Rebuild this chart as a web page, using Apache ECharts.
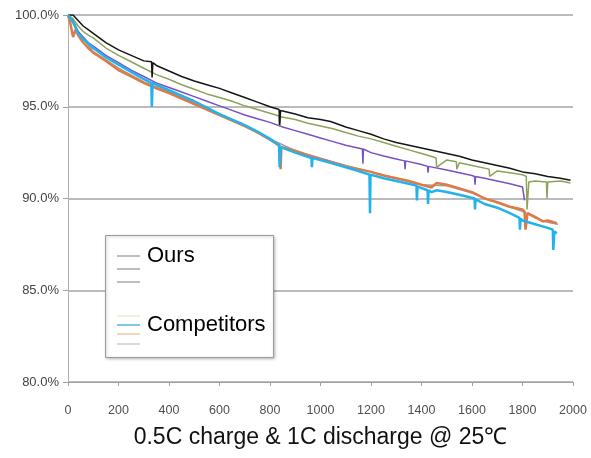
<!DOCTYPE html>
<html><head><meta charset="utf-8">
<script src="https://cdn.jsdelivr.net/npm/echarts@6/dist/echarts.min.js"></script>
<style>html,body{margin:0;padding:0;background:#fff}#c{width:591px;height:458px}</style>
</head><body><div id="c"></div>
<script>
// Cycle counts and capacity retention (%)
const xTicks = [0,200,400,600,800,1000,1200,1400,1600,1800,2000];
const yTicks = [80,85,90,95,100];
const xTitle = '0.5C charge & 1C discharge @ 25\u2103';

const blackCycles = [0,20,40,60,80,100,150,200,250,300,331,333,336,350,400,450,500,550,600,650,700,750,800,836,838,842,900,950,1000,1040,1100,1150,1200,1250,1300,1350,1400,1450,1500,1550,1600,1650,1700,1750,1800,1850,1900,1950,1990];
const blackVals   = [100,100,99.7,99.4,99.2,99.0,98.5,98.1,97.8,97.5,97.45,96.6,97.4,97.25,96.95,96.65,96.4,96.2,96.0,95.75,95.5,95.25,95.0,94.85,94.0,94.8,94.6,94.4,94.3,94.2,93.9,93.7,93.5,93.25,93.05,92.9,92.75,92.6,92.45,92.3,92.1,91.95,91.8,91.65,91.45,91.35,91.2,91.1,91.0];

const greenCycles = [0,20,40,60,80,100,150,200,250,300,350,400,450,500,550,600,650,700,750,800,836,838,842,900,950,1000,1050,1100,1150,1200,1250,1300,1350,1400,1450,1458,1460,1500,1538,1540,1550,1600,1668,1670,1700,1750,1800,1815,1818,1825,1850,1895,1897,1900,1950,1990];
const greenVals   = [100,99.8,99.4,99.1,98.9,98.75,98.2,97.8,97.45,97.1,96.75,96.5,96.2,95.95,95.7,95.5,95.3,95.05,94.85,94.65,94.5,93.9,94.45,94.3,94.1,93.95,93.8,93.6,93.4,93.25,93.05,92.85,92.65,92.45,92.25,92.2,91.7,92.1,92.0,91.6,91.95,91.8,91.6,91.2,91.5,91.4,91.3,91.2,89.4,90.9,90.95,90.9,90.0,90.9,90.95,90.85];

const purpleCycles = [0,20,40,60,80,100,150,200,250,300,350,400,450,500,550,600,650,700,750,800,850,900,950,1000,1050,1100,1166,1168,1170,1200,1250,1300,1333,1335,1337,1400,1424,1426,1428,1500,1550,1600,1610,1612,1614,1650,1700,1750,1800,1806,1808];
const purpleVals   = [100,99.7,99.1,98.8,98.5,98.3,97.8,97.4,97.0,96.65,96.3,96.05,95.8,95.55,95.3,95.05,94.8,94.55,94.35,94.15,93.9,93.7,93.5,93.3,93.1,92.9,92.7,91.9,92.7,92.5,92.32,92.15,92.05,91.6,92.05,91.85,91.75,91.4,91.75,91.55,91.4,91.25,91.2,90.75,91.2,91.1,90.95,90.8,90.63,90.6,89.9];

const orangeCycles = [0,10,20,30,40,60,80,100,150,200,250,300,350,400,450,500,550,600,650,700,750,800,840,842,845,900,950,1000,1050,1100,1150,1200,1250,1300,1350,1400,1440,1460,1500,1550,1600,1650,1700,1750,1800,1808,1812,1820,1850,1880,1900,1936];
const orangeVals   = [100,99.5,98.8,99.2,98.9,98.5,98.2,97.95,97.5,97.0,96.65,96.3,96.0,95.75,95.45,95.15,94.85,94.55,94.25,93.95,93.6,93.2,92.85,91.6,92.8,92.6,92.35,92.15,91.95,91.75,91.6,91.45,91.25,91.1,90.95,90.75,90.6,90.85,90.75,90.55,90.35,90.0,89.8,89.55,89.4,89.3,88.3,89.2,89.0,88.75,88.8,88.65];

const greyCycles = [0,50,100,200,300,400,500,600,700,800,900,1000,1100,1200,1300,1400,1500,1600,1700,1800,1850,1900,1940];
const greyVals   = [100,98.9,98.0,97.1,96.35,95.8,95.2,94.6,94.0,93.25,92.6,92.2,91.8,91.45,91.1,90.75,90.7,90.3,89.75,89.3,88.95,88.7,88.6];

const blueCycles = [0,20,40,60,80,100,150,200,250,300,330,332,335,350,400,450,500,550,600,650,700,750,800,836,838,842,900,964,966,968,1000,1050,1100,1150,1194,1196,1198,1250,1300,1350,1380,1382,1384,1424,1426,1428,1440,1460,1500,1550,1610,1612,1614,1650,1700,1750,1788,1790,1792,1800,1850,1900,1920,1922,1926,1936];
const blueVals   = [100,99.6,99.0,98.7,98.45,98.2,97.7,97.3,96.9,96.5,96.3,95.0,96.3,96.2,95.9,95.6,95.3,94.95,94.6,94.3,94.0,93.65,93.25,92.9,91.7,92.8,92.5,92.2,91.7,92.2,92.1,91.9,91.7,91.5,91.3,89.2,91.3,91.1,90.95,90.8,90.7,89.9,90.65,90.45,89.7,90.45,90.35,90.45,90.35,90.2,90.0,89.4,89.95,89.7,89.5,89.2,88.95,88.3,88.9,88.8,88.6,88.4,88.3,87.2,88.2,88.1];

function pairs(xs, ys){ return xs.map((x,i)=>[x, ys[i]]); }

const FONT = '"Liberation Sans", Arial, sans-serif';
const chart = echarts.init(document.getElementById('c'), null, {renderer:'canvas'});
const lineSeries = (name, xs, ys, color, width) => ({
  name, type:'line', data: pairs(xs, ys), showSymbol:false, symbol:'none',
  lineStyle:{color, width}, itemStyle:{color}, animation:false, z:2
});
const legendY = [256, 269, 282];
const legendG = [];
legendG.push({type:'rect', shape:{x:105.5,y:235.5,width:168,height:122}, style:{fill:'#fff', stroke:'#9a9a9a', lineWidth:1, shadowBlur:3, shadowColor:'rgba(0,0,0,0.25)', shadowOffsetX:1, shadowOffsetY:1}, z:10});
legendY.forEach(y=>legendG.push({type:'line', shape:{x1:117,y1:y,x2:140,y2:y}, style:{stroke:'#a8a8a8', lineWidth:1.5}, z:11}));
legendG.push({type:'text', x:147, y:256, style:{text:'Ours', font:'22px ' + FONT, fill:'#000', verticalAlign:'middle'}, z:11});
legendG.push({type:'line', shape:{x1:117,y1:316,x2:140,y2:316}, style:{stroke:'#f3ead0', lineWidth:1.5}, z:11});
legendG.push({type:'line', shape:{x1:117,y1:325,x2:140,y2:325}, style:{stroke:'#7fc6ec', lineWidth:2}, z:11});
legendG.push({type:'line', shape:{x1:117,y1:334,x2:140,y2:334}, style:{stroke:'#f1c6a8', lineWidth:1.5}, z:11});
legendG.push({type:'line', shape:{x1:117,y1:344,x2:140,y2:344}, style:{stroke:'#c9ced6', lineWidth:1.5}, z:11});
legendG.push({type:'text', x:147, y:325, style:{text:'Competitors', font:'22px ' + FONT, fill:'#000', verticalAlign:'middle'}, z:11});

chart.setOption({
  backgroundColor:'#fff',
  animation:false,
  grid:{left:68, right:18, top:15, bottom:76},
  xAxis:{type:'value', min:0, max:2000, interval:200,
    axisLine:{show:true, lineStyle:{color:'#a0a0a0', width:1}},
    axisTick:{show:true, length:4, lineStyle:{color:'#a0a0a0'}},
    axisLabel:{color:'#505050', fontSize:12.5, fontFamily:FONT, margin:22, formatter:v=>xTicks.includes(v)?String(v):''},
    splitLine:{show:false},
    name: xTitle, nameLocation:'middle', nameGap:44,
    nameTextStyle:{color:'#111', fontSize:23, fontFamily:FONT}
  },
  yAxis:{type:'value', min:80, max:100, interval:5,
    axisLine:{show:true, lineStyle:{color:'#b0b0b0', width:1}},
    axisTick:{show:true, length:5, lineStyle:{color:'#a0a0a0'}},
    axisLabel:{color:'#454545', fontSize:13, fontFamily:FONT, margin:9, formatter:v=>yTicks.includes(v)?v.toFixed(1)+'%':''},
    splitLine:{show:true, lineStyle:{color:'#a4a4a4', width:1.5}}
  },
  series:[
    lineSeries('Competitor 3', greyCycles, greyVals, '#9a9a9a', 1.5),
    lineSeries('Ours 3', purpleCycles, purpleVals, '#7a4fc4', 1.5),
    lineSeries('Ours 2', greenCycles, greenVals, '#8ca35c', 1.5),
    lineSeries('Ours 1', blackCycles, blackVals, '#151515', 1.5),
    lineSeries('Competitor 2', orangeCycles, orangeVals, '#e07a45', 2.5),
    lineSeries('Competitor 1', blueCycles, blueVals, '#22b2ec', 2.5)
  ],
  graphic: legendG
});
</script></body></html>
